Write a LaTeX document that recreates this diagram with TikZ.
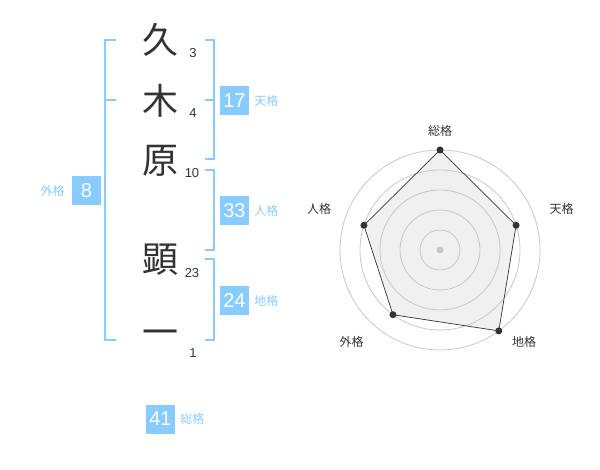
\documentclass[tikz,border=0pt]{standalone}
\usepackage{fontspec}
\setmainfont{Liberation Sans}
\newfontfamily\jpfont{Noto Sans CJK JP}
\usetikzlibrary{positioning}
\definecolor{kakublue}{HTML}{88CCFF}
\definecolor{inkgray}{HTML}{333333}

\begin{document}
\begin{tikzpicture}[x = 1pt, y = -1pt,
    kanji/.style = {font = \jpfont\fontsize{36}{36}\selectfont, text = inkgray, inner sep = 0},
    strokes/.style = {font = \fontsize{13}{13}\selectfont, text = inkgray, inner sep = 0},
    numbox/.style = {fill = kakublue, text = white, minimum size = 29pt, inner sep = 0,
        font = \fontsize{20}{20}\selectfont},
    kaku/.style = {font = \jpfont\fontsize{12}{12}\selectfont, text = kakublue, inner sep = 0},
    brace/.style = {kakublue, line width = 1.4pt},
    axislabel/.style = {font = \jpfont\fontsize{12}{12}\selectfont, text = inkgray, inner sep = 0},
    dot/.style = {circle, fill = inkgray, inner sep = 0, minimum size = 7pt}]
    \useasboundingbox (0, 0) rectangle (600, 470);

    %% name
    \node[kanji] (k1) at (160, 40) {久};
    \node[kanji] (k2) at (160, 101) {木};
    \node[kanji] (k3) at (160, 161) {原};
    \node[kanji] (k4) at (160, 260) {顕};
    \node[kanji] (k5) at (160, 338) {一};

    %% strokes
    \node[strokes] (s1) at (193, 53) {3};
    \node[strokes] (s2) at (193, 113) {4};
    \node[strokes] (s3) at (192, 173) {10};
    \node[strokes] (s4) at (192, 273) {23};
    \node[strokes] (s5) at (193, 353) {1};

    %% braces
    \draw[brace] (116, 40) -- (105, 40) -- (105, 340) -- (116, 340) (105, 100) -- (116, 100);
    \draw[brace] (205, 40) -- (214, 40) -- (214, 159) -- (205, 159) (205, 100) -- (214, 100);
    \draw[brace] (205, 170) -- (214, 170) -- (214, 250) -- (205, 250);
    \draw[brace] (205, 259) -- (214, 259) -- (214, 340) -- (205, 340);

    %% scores
    \node[numbox] (gai) at (86.5, 190.5) {8};
    \node[kaku, left = 7pt of gai] {外格};
    \node[numbox] (ten) at (234.5, 100.5) {17};
    \node[kaku, right = 5pt of ten] {天格};
    \node[numbox] (jin) at (234.5, 210.5) {33};
    \node[kaku, right = 5pt of jin] {人格};
    \node[numbox] (chi) at (234.5, 300.5) {24};
    \node[kaku, right = 5pt of chi] {地格};
    \node[numbox] (sou) at (160.5, 419) {41};
    \node[kaku, right = 5pt of sou] {総格};

    %% radar
    \begin{scope}[shift = {(440, 250)}, y = 1pt]
        \coordinate (rSou) at (90:100);
        \coordinate (rTen) at (18:80);
        \coordinate (rChi) at (-54:100);
        \coordinate (rGai) at (-126:80);
        \coordinate (rJin) at (162:80);
        \fill[black!6] (rSou) -- (rTen) -- (rChi) -- (rGai) -- (rJin) -- cycle;
        \foreach \r in {20, 40, ..., 100}
            \draw[black!22, line width = 0.8pt] (0, 0) circle (\r);
        \fill[black!22] (0, 0) circle (3.5);
        \draw[inkgray, line width = 0.7pt] (rSou) -- (rTen) -- (rChi) -- (rGai) -- (rJin) -- cycle;
        \foreach \p in {rSou, rTen, rChi, rGai, rJin}
            \node[dot] at (\p) {};
        \node[axislabel] at (0, 119.5) {総格};
        \node[axislabel] at (121.5, 41.5) {天格};
        \node[axislabel] at (-121, 41.5) {人格};
        \node[axislabel] at (-88.5, -91.5) {外格};
        \node[axislabel] at (84, -91.5) {地格};
    \end{scope}
\end{tikzpicture}
\end{document}
